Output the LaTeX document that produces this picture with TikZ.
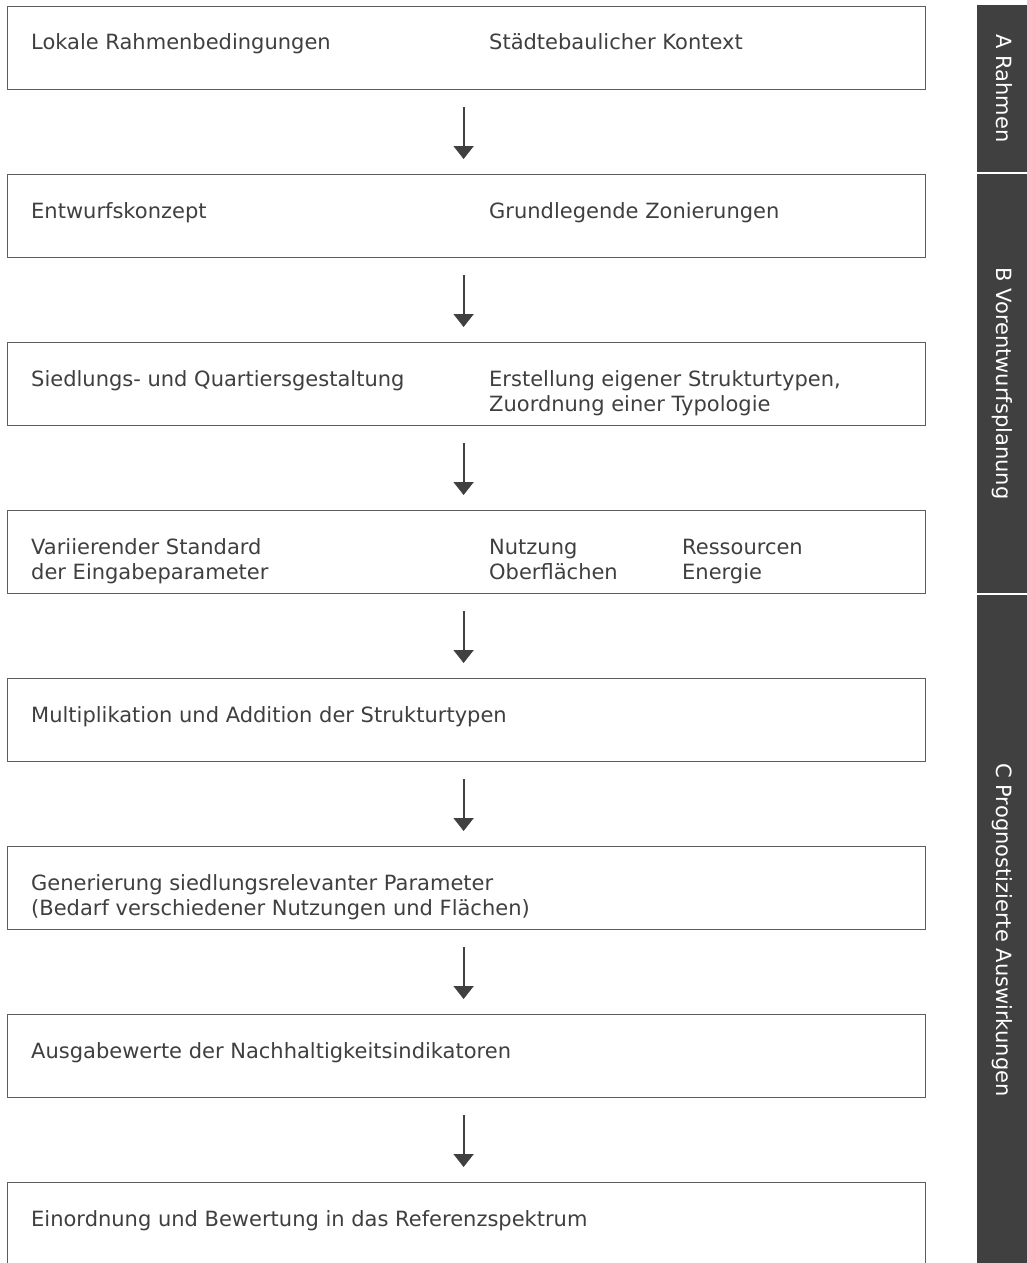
\documentclass[tikz,border=0pt]{standalone}
\usepackage{fontspec}
\setmainfont{DejaVu Sans}
\usetikzlibrary{arrows.meta}
\definecolor{dunkel}{HTML}{404040}
\definecolor{rahmen}{HTML}{5C5C5C}
\definecolor{schrift}{HTML}{3F3F3F}

\begin{document}
\begin{tikzpicture}[x=1pt,y=-1pt,
  stufe/.style={draw=rahmen,line width=1.2pt,minimum width=918pt,minimum height=83pt,inner sep=0pt,anchor=north west},
  txt/.style={anchor=base west,inner sep=0pt,align=left,text=schrift,font=\fontsize{21}{25}\selectfont},
  balken/.style={fill=dunkel,text=white,rotate=-90,minimum height=50pt,inner sep=0pt,text height=15pt,text depth=4pt,font=\fontsize{21}{25}\selectfont},
  pfeil/.style={draw=dunkel,line width=2pt,-{Triangle[width=20pt,length=13pt]},shorten <=17pt,shorten >=15pt}]
\useasboundingbox (0,0) rectangle (1027,1263);

% Stufen
\node[stufe] (s1) at (7,6) {};
\node[stufe] (s2) at (7,174) {};
\node[stufe] (s3) at (7,342) {};
\node[stufe] (s4) at (7,510) {};
\node[stufe] (s5) at (7,678) {};
\node[stufe] (s6) at (7,846) {};
\node[stufe] (s7) at (7,1014) {};
\node[stufe] (s8) at (7,1182) {};

% Texte (zweizeilige: Bezug auf die letzte Zeile)
\node[txt] (t1a) at (31,50) {Lokale Rahmenbedingungen};
\node[txt] (t1b) at (489,50) {Städtebaulicher Kontext};
\node[txt] (t2a) at (31,218) {Entwurfskonzept};
\node[txt] (t2b) at (489,218) {Grundlegende Zonierungen};
\node[txt] (t3a) at (31,386) {Siedlungs- und Quartiersgestaltung};
\node[txt] (t3b) at (489,411) {Erstellung eigener Strukturtypen,\\Zuordnung einer Typologie};
\node[txt] (t4a) at (31,579) {Variierender Standard\\der Eingabeparameter};
\node[txt] (t4b) at (489,579) {Nutzung\\Oberflächen};
\node[txt] (t4c) at (682,579) {Ressourcen\\Energie};
\node[txt] (t5) at (31,722) {Multiplikation und Addition der Strukturtypen};
\node[txt] (t6) at (31,915) {Generierung siedlungsrelevanter Parameter\\(Bedarf verschiedener Nutzungen und Flächen)};
\node[txt] (t7) at (31,1058) {Ausgabewerte der Nachhaltigkeitsindikatoren};
\node[txt] (t8) at (31,1226) {Einordnung und Bewertung in das Referenzspektrum};

% Pfeile
\draw[pfeil] ([xshift=-3pt]s1.south) -- ([xshift=-3pt]s2.north);
\draw[pfeil] ([xshift=-3pt]s2.south) -- ([xshift=-3pt]s3.north);
\draw[pfeil] ([xshift=-3pt]s3.south) -- ([xshift=-3pt]s4.north);
\draw[pfeil] ([xshift=-3pt]s4.south) -- ([xshift=-3pt]s5.north);
\draw[pfeil] ([xshift=-3pt]s5.south) -- ([xshift=-3pt]s6.north);
\draw[pfeil] ([xshift=-3pt]s6.south) -- ([xshift=-3pt]s7.north);
\draw[pfeil] ([xshift=-3pt]s7.south) -- ([xshift=-3pt]s8.north);

% Phasen
\node[balken,minimum width=167pt] (pa) at (1002,88.5) {A Rahmen};
\node[balken,minimum width=419pt] (pb) at (1002,383.5) {B Vorentwurfsplanung};
\node[balken,minimum width=670pt] (pc) at (1002,930) {C Prognostizierte Auswirkungen};
\end{tikzpicture}
\end{document}
